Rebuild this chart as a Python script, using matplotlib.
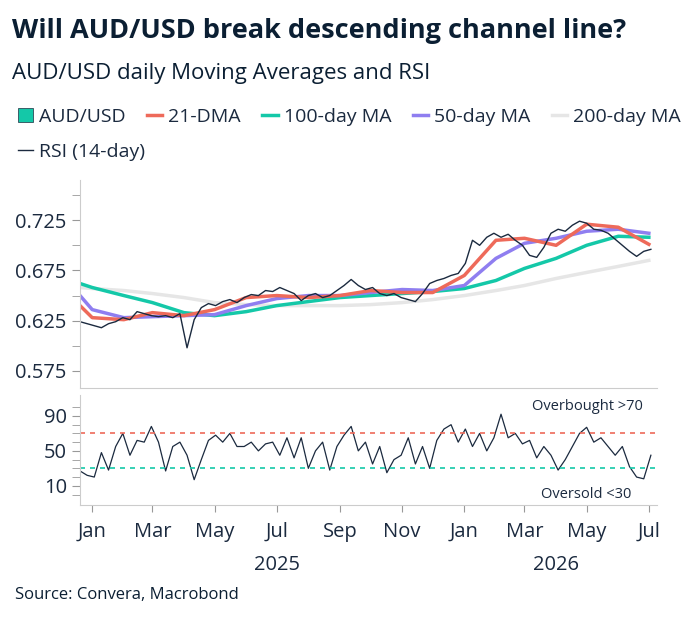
import matplotlib
matplotlib.use("Agg")
import matplotlib.pyplot as plt
import matplotlib.dates as mdates
import pandas as pd
import numpy as np

plt.rcParams['font.family'] = ['Open Sans', 'DejaVu Sans']

# weekly closes from 2024-12-20
price = [0.624, 0.622,
         0.620, 0.618, 0.622, 0.624,
         0.628, 0.626, 0.634, 0.632,
         0.630, 0.629, 0.630, 0.628,
         0.632, 0.598, 0.626, 0.638,
         0.642, 0.640, 0.644, 0.646, 0.643,
         0.648, 0.651, 0.650, 0.655,
         0.654, 0.658, 0.655, 0.652,
         0.645, 0.650, 0.652, 0.648, 0.650,
         0.655, 0.660, 0.666, 0.660,
         0.656, 0.658, 0.652, 0.650,
         0.652, 0.648, 0.646, 0.644, 0.652,
         0.662, 0.665, 0.667, 0.670,
         0.672, 0.682, 0.705, 0.700, 0.708,
         0.712, 0.708, 0.711, 0.705,
         0.700, 0.690, 0.688, 0.698,
         0.712, 0.716, 0.714, 0.720, 0.724,
         0.722, 0.716, 0.715, 0.712,
         0.706, 0.700, 0.694, 0.689,
         0.694, 0.696]
rsi = [27, 22,
       20, 48, 28, 55,
       70, 45, 62, 60,
       78, 60, 27, 55,
       60, 45, 17, 40,
       62, 68, 60, 70, 55,
       55, 60, 50, 58,
       60, 45, 65, 42,
       65, 30, 50, 60, 28,
       55, 68, 78, 50,
       60, 35, 55, 25,
       40, 45, 65, 35, 55,
       30, 62, 75, 80,
       60, 75, 55, 70, 50,
       65, 92, 65, 70,
       58, 62, 42, 55,
       45, 28, 40, 55, 70,
       77, 60, 65, 55,
       45, 55, 32, 20,
       18, 45]

# monthly moving-average readings (2024-12-20, then month starts)
ma_dates = ["2024-12-20"] + [d.strftime("%Y-%m-%d") for d in pd.date_range("2025-01-01", "2026-07-01", freq="MS")]
ma21 = [0.640, 0.628, 0.626, 0.633, 0.630, 0.636, 0.648, 0.650, 0.648, 0.650, 0.655, 0.653, 0.653,
        0.670, 0.705, 0.707, 0.700, 0.721, 0.718, 0.701]
ma50 = [0.650, 0.636, 0.628, 0.629, 0.630, 0.631, 0.640, 0.647, 0.650, 0.650, 0.653, 0.656, 0.655,
        0.660, 0.687, 0.702, 0.707, 0.714, 0.716, 0.712]
ma100 = [0.662, 0.658, 0.650, 0.643, 0.633, 0.630, 0.634, 0.640, 0.644, 0.648, 0.650, 0.652, 0.654,
         0.657, 0.665, 0.677, 0.687, 0.700, 0.709, 0.708]
ma200 = [0.658, 0.657, 0.655, 0.652, 0.648, 0.643, 0.641, 0.640, 0.640, 0.640, 0.641, 0.643, 0.646,
         0.650, 0.655, 0.660, 0.667, 0.673, 0.679, 0.685]

dates = pd.date_range("2024-12-20", periods=len(price), freq="7D")
mad = pd.to_datetime(ma_dates)

fig = plt.figure(figsize=(6.81, 6.24), dpi=100)
W, H = 681, 624
def ax_rect(l, t, r, b):
    return [l / W, 1 - b / H, (r - l) / W, (b - t) / H]

ax1 = fig.add_axes(ax_rect(80, 180, 657, 388))
ax2 = fig.add_axes(ax_rect(80, 395, 657, 505))

navy = "#1b2a3f"
ax1.plot(mad, ma200, color="#e6e6e6", lw=2.5)
ax1.plot(mad, ma100, color="#14c8a8", lw=2.5)
ax1.plot(mad, ma50, color="#8f7ef0", lw=2.5)
ax1.plot(mad, ma21, color="#ee6a5a", lw=2.5)
ax1.plot(dates, price, color=navy, lw=1.0)

ax2.plot(dates, rsi, color=navy, lw=0.9)
ax2.axhline(70, color="#ee6a5a", ls=(0, (3, 3)), lw=1.2)
ax2.axhline(30, color="#14c8a8", ls=(0, (3, 3)), lw=1.2)
ax2.text(0.975, 0.96, "Overbought >70", transform=ax2.transAxes, ha="right", va="top", fontsize=10.5, color="#1b2a3f")
ax2.text(0.955, 0.03, "Oversold <30", transform=ax2.transAxes, ha="right", va="bottom", fontsize=10.5, color="#1b2a3f")

xmin, xmax = pd.Timestamp("2024-12-20"), pd.Timestamp("2026-07-09")
for ax in (ax1, ax2):
    ax.set_xlim(xmin, xmax)
    for s in ("top", "right"):
        ax.spines[s].set_visible(False)
    for s in ("left", "bottom"):
        ax.spines[s].set_color("#cccccc")
    ax.tick_params(axis="y", colors="#999999", labelcolor="#1b2a3f", labelsize=14.5, length=6)
    ax.tick_params(axis="y", which="minor", colors="#999999", length=6)
    ax.xaxis.set_major_locator(mdates.MonthLocator(bymonth=[1, 3, 5, 7, 9, 11]))
    ax.tick_params(axis="x", colors="#999999", length=5)

ax1.set_ylim(0.558, 0.765)
ax1.set_yticks([0.575, 0.625, 0.675, 0.725])
ax1.set_yticks([0.6, 0.65, 0.7, 0.75], minor=True)
ax1.set_yticklabels(["0.575", "0.625", "0.675", "0.725"])
ax1.tick_params(axis="x", length=0, labelbottom=False)

ax2.set_ylim(-12, 114)
ax2.set_yticks([10, 50, 90])
ax2.set_yticks([0, 20, 30, 40, 60, 70, 80, 100], minor=True)
ax2.xaxis.set_major_formatter(mdates.DateFormatter("%b"))
ax2.tick_params(axis="x", labelcolor="#1b2a3f", labelsize=14.5, pad=7)

for yr, d in (("2025", "2025-07-01"), ("2026", "2026-04-01")):
    ax2.text(pd.Timestamp(d), -0.45, yr, transform=ax2.get_xaxis_transform(), ha="center", va="top",
             fontsize=14.5, color="#1b2a3f")

fig.text(12 / W, 1 - 31 / H, "Will AUD/USD break descending channel line?", fontsize=19.5, fontweight="bold",
         color="#0b1f33", va="center")
fig.text(12 / W, 1 - 73 / H, "AUD/USD daily Moving Averages and RSI", fontsize=16, color="#0b1f33", va="center")
fig.text(15 / W, 1 - 595 / H, "Source: Convera, Macrobond", fontsize=12, color="#0b1f33", va="center")

from matplotlib.lines import Line2D
from matplotlib.patches import Patch
handles = [Patch(facecolor="#14c8a8", edgecolor=navy, lw=0.5),
           Line2D([], [], color="#ee6a5a", lw=2.5),
           Line2D([], [], color="#14c8a8", lw=2.5),
           Line2D([], [], color="#8f7ef0", lw=2.5),
           Line2D([], [], color="#e6e6e6", lw=2.5)]
labels = ["AUD/USD", "21-DMA", "100-day MA", "50-day MA", "200-day MA"]
fig.legend(handles, labels, loc="center left", bbox_to_anchor=(0 / W, 1 - 117 / H), ncol=5, frameon=False,
           fontsize=14, handlelength=0.8, handletextpad=0.3, columnspacing=1.1, labelcolor="#1b2a3f")
fig.legend([Line2D([], [], color=navy, lw=1)], ["RSI (14-day)"], loc="center left",
           bbox_to_anchor=(0 / W, 1 - 152 / H), frameon=False, fontsize=14, handlelength=0.8,
           handletextpad=0.3, labelcolor="#1b2a3f")

fig.savefig("out.png", dpi=100)
